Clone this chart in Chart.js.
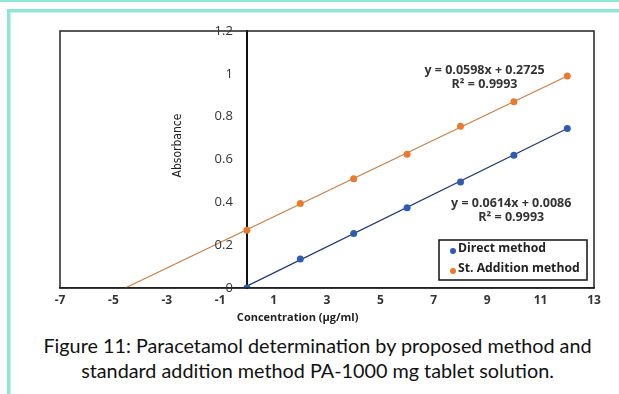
<!DOCTYPE html>
<html>
<head>
<meta charset="utf-8">
<script src="https://cdn.jsdelivr.net/npm/chart.js@4.4.0/dist/chart.umd.min.js"></script>
<style>
  body { margin: 0; width: 619px; height: 394px; overflow: hidden; position: relative; background: #fff; }
  #topline { position: absolute; left: 0; top: 0; width: 619px; height: 2px; background: #8ee6d4; }
  #frame { position: absolute; left: 7px; top: 9px; width: 700px; height: 500px;
           border-left: 3px solid #8ee6d4; border-top: 3px solid #8ee6d4; }
  #frame-inner { position: absolute; left: 0; top: 0; width: 100%; height: 100%;
                 border-left: 1px solid #c9f3ea; border-top: 1px solid #c9f3ea; }
  #chart { position: absolute; left: 0; top: 0; }
  #caption { position: absolute; left: 10px; width: 615px; top: 333px; text-align: center;
             font-family: Lato, "Noto Sans", sans-serif; font-size: 19.8px; line-height: 25px; color: #111; }
</style>
</head>
<body>
<div id="topline"></div>
<div id="frame"><div id="frame-inner"></div></div>
<canvas id="chart" width="619" height="330"></canvas>
<div id="caption">Figure 11: Paracetamol determination by proposed method and<br>standard addition method PA-1000 mg tablet solution.</div>
<script>
// values
const concentrations = [0, 2, 4, 6, 8, 10, 12];
const directAbs = [0, 0.135, 0.255, 0.375, 0.495, 0.62, 0.745];
const additionAbs = [0.27, 0.395, 0.51, 0.625, 0.755, 0.87, 0.99];
// trendline ends (the st. addition one runs back to the x intercept)
const directTrendX = [0, 12];
const directTrendY = [0.0086, 0.745];
const additionTrendX = [-4.56, 12];
const additionTrendY = [0, 0.99];
const xTicks = [-7, -5, -3, -1, 1, 3, 5, 7, 9, 11, 13];
const yTicks = [0, 0.2, 0.4, 0.6, 0.8, 1, 1.2];
const seriesNames = ['Direct method', 'St. Addition method'];
const directEquation = ['y = 0.0614x + 0.0086', 'R² = 0.9993'];
const additionEquation = ['y = 0.0598x + 0.2725', 'R² = 0.9993'];

const blueMarker = '#2f5bb0';
const blueLine = '#1f3a72';
const orangeMarker = '#ea7a2c';
const orangeLine = '#c6814a';

const toPoints = (xs, ys) => xs.map((x, i) => ({ x: x, y: ys[i] }));

const extras = {
  id: 'extras',
  afterDraw(chart) {
    const ctx = chart.ctx;
    const a = chart.chartArea;
    const xs = chart.scales.x;
    const ys = chart.scales.y;
    ctx.save();

    // plot frame
    ctx.strokeStyle = '#222';
    ctx.lineWidth = 1.5;
    ctx.strokeRect(a.left, a.top, a.right - a.left, a.bottom - a.top);

    // y tick labels, left of the axis that crosses at x = 0
    const axisX = xs.getPixelForValue(0);
    ctx.fillStyle = '#333';
    ctx.textAlign = 'right';
    ctx.textBaseline = 'middle';
    ctx.font = '13px "Open Sans"';
    ys.ticks.forEach(t => {
      ctx.fillText(String(t.value), axisX - 14, ys.getPixelForValue(t.value));
    });

    // axis titles
    ctx.fillStyle = '#222';
    ctx.textAlign = 'center';
    ctx.font = 'bold 11px "Open Sans"';
    ctx.fillText('Concentration (µg/ml)', xs.getPixelForValue(1.9), a.bottom + 30);

    ctx.save();
    ctx.translate(xs.getPixelForValue(-2.6), ys.getPixelForValue(0.665));
    ctx.rotate(-Math.PI / 2);
    ctx.font = '12px "Liberation Sans Narrow", "DejaVu Sans Condensed", sans-serif';
    ctx.fillText('Absorbance', 0, 0);
    ctx.restore();

    // trendline equations
    ctx.font = 'bold 12.5px "Open Sans"';
    ctx.fillStyle = '#333';
    ctx.fillText(additionEquation[0], xs.getPixelForValue(8.9), ys.getPixelForValue(1.018));
    ctx.fillText(additionEquation[1], xs.getPixelForValue(8.9), ys.getPixelForValue(1.018) + 14);
    ctx.fillText(directEquation[0], xs.getPixelForValue(9.9), ys.getPixelForValue(0.397));
    ctx.fillText(directEquation[1], xs.getPixelForValue(9.9), ys.getPixelForValue(0.397) + 14);

    // legend box
    const lw = 148, lh = 40;
    const lx = a.right - 7 - lw, ly = a.bottom - 8 - lh;
    ctx.fillStyle = '#fff';
    ctx.fillRect(lx, ly, lw, lh);
    ctx.strokeStyle = '#111';
    ctx.lineWidth = 1.5;
    ctx.strokeRect(lx, ly, lw, lh);
    ctx.font = 'bold 12.2px "Open Sans"';
    ctx.textAlign = 'left';
    [blueMarker, orangeMarker].forEach((c, i) => {
      const cy = ly + 9 + i * 20;
      ctx.fillStyle = c;
      ctx.beginPath();
      ctx.arc(lx + 14, cy + 2, 3, 0, Math.PI * 2);
      ctx.fill();
      ctx.fillStyle = '#222';
      ctx.fillText(seriesNames[i], lx + 19, cy);
    });
    ctx.restore();
  }
};

new Chart(document.getElementById('chart'), {
  type: 'scatter',
  data: {
    datasets: [
      {
        label: seriesNames[1] + ' trend',
        data: toPoints(additionTrendX, additionTrendY),
        showLine: true, borderColor: orangeLine, borderWidth: 1.2,
        pointRadius: 0, order: 3
      },
      {
        label: seriesNames[0] + ' trend',
        data: toPoints(directTrendX, directTrendY),
        showLine: true, borderColor: blueLine, borderWidth: 1.2,
        pointRadius: 0, order: 3
      },
      {
        label: seriesNames[0],
        data: toPoints(concentrations, directAbs),
        backgroundColor: blueMarker, borderColor: blueMarker,
        pointRadius: 3.5, borderWidth: 0, order: 1
      },
      {
        label: seriesNames[1],
        data: toPoints(concentrations, additionAbs),
        backgroundColor: orangeMarker, borderColor: orangeMarker,
        pointRadius: 3.5, borderWidth: 0, order: 1
      }
    ]
  },
  options: {
    responsive: false,
    animation: false,
    events: [],
    layout: { padding: { left: 60, right: 25, top: 31, bottom: 22 } },
    plugins: { legend: { display: false }, tooltip: { enabled: false } },
    scales: {
      x: {
        type: 'linear', min: -7, max: 13, position: 'bottom',
        afterBuildTicks: s => { s.ticks = xTicks.map(v => ({ value: v })); },
        afterFit: s => { s.height = 20; },
        grid: { display: false, drawTicks: false },
        border: { color: '#222', width: 1.5 },
        ticks: { padding: 5, color: '#333', autoSkip: false, maxRotation: 0,
                 font: { family: 'Open Sans', size: 12, weight: 'bold' } }
      },
      y: {
        type: 'linear', min: 0, max: 1.2, position: { x: 0 },
        afterBuildTicks: s => { s.ticks = yTicks.map(v => ({ value: v })); },
        afterFit: s => { s.width = 0; },
        grid: { display: false, drawTicks: false },
        border: { color: '#111', width: 2 },
        ticks: { display: false }
      }
    }
  },
  plugins: [extras]
});
</script>
</body>
</html>
